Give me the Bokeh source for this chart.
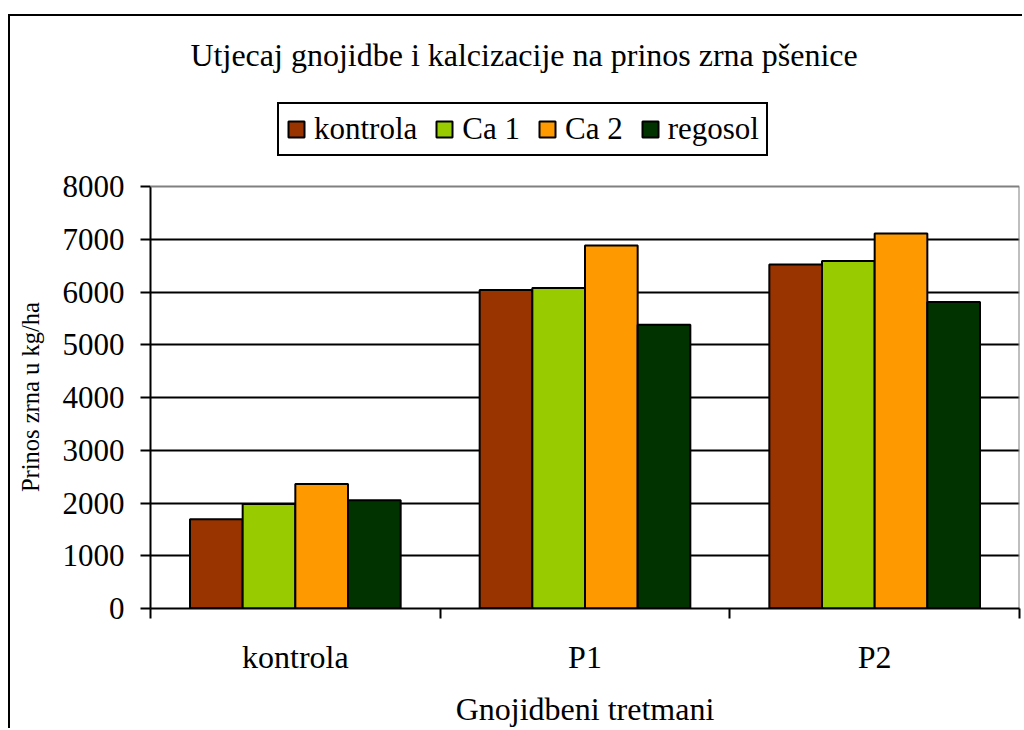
import numpy as np
from bokeh.plotting import figure
from bokeh.models import FixedTicker, Label, Legend, LegendItem, Range1d, Span
from bokeh.embed import file_html
from bokeh.resources import INLINE

# ---- data ----
categories = ["kontrola", "P1", "P2"]
series_names = ["kontrola", "Ca 1", "Ca 2", "regosol"]
kontrola = [1690, 6040, 6520]
ca1 = [1980, 6075, 6590]
ca2 = [2360, 6880, 7110]
regosol = [2050, 5380, 5810]
y_ticks = [0, 1000, 2000, 3000, 4000, 5000, 6000, 7000, 8000]
colors = ["#993300", "#99CC00", "#FF9900", "#003300"]

title_text = "Utjecaj gnojidbe i kalcizacije na prinos zrna pšenice"
x_title = "Gnojidbeni tretmani"
y_title = "Prinos zrna u kg/ha"

FONT = "Liberation Serif"

# ---- layout (pixels) ----
W, H = 1014, 714
MB_LEFT, MB_RIGHT, MB_TOP, MB_BOTTOM = 140, 5, 10, 122
AXIS_PX = 422          # pixel height of the 0..8000 value axis
frame_h = H - MB_TOP - MB_BOTTOM
y_min, y_axis_max = y_ticks[0], y_ticks[-1]
y_view_max = y_min + (y_axis_max - y_min) * frame_h / AXIS_PX
x_max = len(categories)

p = figure(width=W, height=H,
           x_range=Range1d(0, x_max), y_range=Range1d(y_min, y_view_max),
           output_backend="svg", toolbar_location=None,
           min_border_left=MB_LEFT, min_border_right=MB_RIGHT,
           min_border_top=MB_TOP, min_border_bottom=MB_BOTTOM)
p.styles = {"border-top": "2px solid black", "border-left": "2px solid black",
            "margin-top": "14px", "margin-left": "8px"}

p.background_fill_color = "white"
p.border_fill_color = "white"
p.outline_line_color = None

# plot-area border (grey, top and right)
p.add_layout(Span(location=y_axis_max, dimension="width", line_color="#808080", line_width=2))
p.segment(x0=[x_max], y0=[y_min], x1=[x_max], y1=[y_axis_max], line_color="#808080", line_width=2)

# grid
p.xgrid.visible = False
p.ygrid.ticker = FixedTicker(ticks=y_ticks[1:-1])
p.ygrid.grid_line_color = "black"
p.ygrid.grid_line_width = 2

# bars
n = len(series_names)
w = 1.0 / 5.5
centers = np.arange(len(categories)) + 0.5
items = []
for j, (name, vals, col) in enumerate(zip(series_names, [kontrola, ca1, ca2, regosol], colors)):
    r = p.vbar(x=centers + (j - (n - 1) / 2) * w, top=vals, width=w, bottom=0,
               fill_color=col, line_color="black", line_width=2)
    items.append(LegendItem(label=name, renderers=[r]))

# y axis (label padded with no-break spaces so it centres on the 0..8000 span)
ya = p.yaxis[0]
ya.ticker = FixedTicker(ticks=y_ticks)
ya.bounds = (y_min, y_axis_max)
ya.axis_line_width = 2
ya.major_tick_line_width = 2
ya.major_tick_out = 10
ya.major_tick_in = 0
ya.minor_tick_line_color = None
ya.major_label_text_font = FONT
ya.major_label_text_font_size = "31px"
ya.major_label_text_color = "black"
ya.major_label_standoff = 16
ya.axis_label = y_title + "\u00a0" * 26
ya.axis_label_text_font = FONT
ya.axis_label_text_font_size = "24.5px"
ya.axis_label_text_font_style = "normal"
ya.axis_label_text_color = "black"
ya.axis_label_standoff = 16

# x axis
xa = p.xaxis[0]
xa.ticker = FixedTicker(ticks=list(centers), minor_ticks=list(np.arange(len(categories) + 1)))
xa.major_label_overrides = {float(c): cat for c, cat in zip(centers, categories)}
xa.axis_line_width = 2
xa.major_tick_out = 0
xa.major_tick_in = 0
xa.minor_tick_out = 10
xa.minor_tick_in = 0
xa.minor_tick_line_width = 2
xa.minor_tick_line_color = "black"
xa.major_label_text_font = FONT
xa.major_label_text_font_size = "32px"
xa.major_label_text_color = "black"
xa.major_label_standoff = 20
xa.axis_label = x_title
xa.axis_label_text_font = FONT
xa.axis_label_text_font_size = "32px"
xa.axis_label_text_font_style = "normal"
xa.axis_label_text_color = "black"
xa.axis_label_standoff = 13

# legend (inside the extended frame, above the value area)
legend = Legend(items=items, orientation="horizontal", location=(127, 452),
                glyph_width=20, glyph_height=20, label_standoff=8, spacing=17,
                padding=7, margin=0,
                border_line_color="black", border_line_width=2, border_line_alpha=1.0,
                background_fill_color="white", background_fill_alpha=1.0,
                label_text_font=FONT, label_text_font_size="31px",
                label_text_color="black")
p.add_layout(legend, "center")

# title
p.add_layout(Label(x=40, y=554, x_units="screen", y_units="screen",
                   text=title_text, text_align="left", text_baseline="alphabetic",
                   text_font=FONT, text_font_size="32px", text_color="black"))

open("out.html", "w").write(file_html(p, INLINE))
